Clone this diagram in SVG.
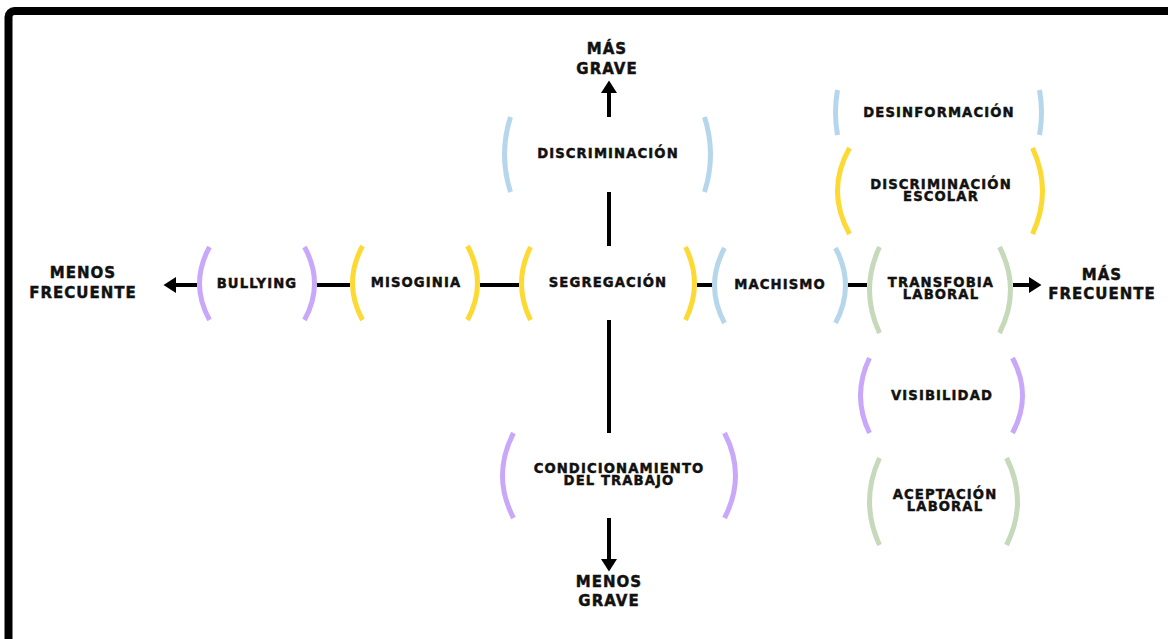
<svg xmlns="http://www.w3.org/2000/svg" width="1168" height="639" viewBox="0 0 1168 639">
<style>
  .lbl{font-family:"DejaVu Sans","Liberation Sans",sans-serif;font-weight:bold;font-size:13.2px;letter-spacing:1.1px;fill:#111;stroke:#111;stroke-width:0.45px;text-anchor:middle}
  .axis{font-family:"DejaVu Sans","Liberation Sans",sans-serif;font-weight:bold;font-size:15px;letter-spacing:1px;fill:#111;stroke:#111;stroke-width:0.45px;text-anchor:middle}
  .br{fill:none;stroke-width:5;stroke-linecap:butt}
  .purple{stroke:#C9A8FA}
  .yellow{stroke:#FCD933}
  .blue{stroke:#B5D6EB}
  .green{stroke:#C6D9BA}
  .conn{stroke:#000;stroke-width:4;fill:none}
</style>
<defs>
  <marker id="arrow" markerUnits="userSpaceOnUse" markerWidth="13" markerHeight="16" refX="1" refY="8" orient="auto">
    <path d="M0,0 L12.5,8 L0,16 z" fill="#000"/>
  </marker>
</defs>
<rect x="0" y="0" width="1168" height="639" fill="#fff"/>
<rect id="frame" x="8.5" y="11" width="1200" height="700" rx="6" fill="none" stroke="#000" stroke-width="8"/>

<g id="connectors">
  <line class="conn" x1="197" y1="285" x2="175" y2="285" marker-end="url(#arrow)"/>
  <line class="conn" x1="317" y1="285" x2="350" y2="285"/>
  <line class="conn" x1="480" y1="285" x2="519" y2="285"/>
  <line class="conn" x1="697" y1="285" x2="712" y2="285"/>
  <line class="conn" x1="848" y1="285" x2="867" y2="285"/>
  <line class="conn" x1="1013" y1="285" x2="1030" y2="285" marker-end="url(#arrow)"/>
  <line class="conn" x1="609" y1="117" x2="609" y2="92" marker-end="url(#arrow)"/>
  <line class="conn" x1="609" y1="192" x2="609" y2="246"/>
  <line class="conn" x1="609" y1="320" x2="609" y2="433"/>
  <line class="conn" x1="609" y1="518" x2="609" y2="560" marker-end="url(#arrow)"/>
</g>

<g id="axis-labels">
  <text class="axis" x="83" y="278">MENOS<tspan x="83" dy="20">FRECUENTE</tspan></text>
  <text class="axis" x="1102" y="280">MÁS<tspan x="1102" dy="19">FRECUENTE</tspan></text>
  <text class="axis" x="607" y="54">MÁS<tspan x="607" dy="20">GRAVE</tspan></text>
  <text class="axis" x="609" y="587">MENOS<tspan x="609" dy="19">GRAVE</tspan></text>
</g>

<g id="node-bullying">
  <path class="br purple" d="M209.5,247 Q189.5,283.5 209.5,320"/>
  <path class="br purple" d="M304.5,247 Q324.5,283.5 304.5,320"/>
  <text class="lbl" x="257" y="288">BULLYING</text>
</g>
<g id="node-misoginia">
  <path class="br yellow" d="M362.5,246 Q342.5,283 362.5,320"/>
  <path class="br yellow" d="M467.5,246 Q487.5,283 467.5,320"/>
  <text class="lbl" x="416" y="287">MISOGINIA</text>
</g>
<g id="node-segregacion">
  <path class="br yellow" d="M530.5,247 Q512.5,283.5 530.5,320"/>
  <path class="br yellow" d="M685.5,247 Q703.5,283.5 685.5,320"/>
  <text class="lbl" x="608" y="287">SEGREGACIÓN</text>
</g>
<g id="node-machismo">
  <path class="br blue" d="M724.5,248 Q704.5,285.5 724.5,323"/>
  <path class="br blue" d="M835.5,248 Q855.5,285.5 835.5,323"/>
  <text class="lbl" x="780" y="289">MACHISMO</text>
</g>
<g id="node-transfobia">
  <path class="br green" d="M879.5,247 Q859.5,290 879.5,333"/>
  <path class="br green" d="M999.5,247 Q1021.5,290 999.5,333"/>
  <text class="lbl" x="941" y="287">TRANSFOBIA<tspan x="941" dy="12">LABORAL</tspan></text>
</g>
<g id="node-discriminacion">
  <path class="br blue" d="M510.5,117 Q498.5,154.5 510.5,192"/>
  <path class="br blue" d="M704.5,117 Q716.5,154.5 704.5,192"/>
  <text class="lbl" x="608" y="158">DISCRIMINACIÓN</text>
</g>
<g id="node-condicionamiento">
  <path class="br purple" d="M513.5,433 Q491.5,475.5 513.5,518"/>
  <path class="br purple" d="M724.5,433 Q746.5,475.5 724.5,518"/>
  <text class="lbl" x="619" y="473">CONDICIONAMIENTO<tspan x="619" dy="12">DEL TRABAJO</tspan></text>
</g>
<g id="node-desinformacion">
  <path class="br blue" d="M837.5,90 Q833.5,112.5 837.5,135"/>
  <path class="br blue" d="M1039.5,90 Q1043.5,112.5 1039.5,135"/>
  <text class="lbl" x="939" y="117">DESINFORMACIÓN</text>
</g>
<g id="node-discriminacion-escolar">
  <path class="br yellow" d="M849.5,148 Q825.5,191 849.5,234"/>
  <path class="br yellow" d="M1032.5,148 Q1052.5,191 1032.5,234"/>
  <text class="lbl" x="941" y="189">DISCRIMINACIÓN<tspan x="941" dy="12">ESCOLAR</tspan></text>
</g>
<g id="node-visibilidad">
  <path class="br purple" d="M869.5,358 Q851.5,395.5 869.5,433"/>
  <path class="br purple" d="M1012.5,358 Q1032.5,395.5 1012.5,433"/>
  <text class="lbl" x="942" y="400">VISIBILIDAD</text>
</g>
<g id="node-aceptacion">
  <path class="br green" d="M879.5,458 Q859.5,501.5 879.5,545"/>
  <path class="br green" d="M1006.5,458 Q1028.5,501.5 1006.5,545"/>
  <text class="lbl" x="945" y="499">ACEPTACIÓN<tspan x="945" dy="12">LABORAL</tspan></text>
</g>
</svg>
